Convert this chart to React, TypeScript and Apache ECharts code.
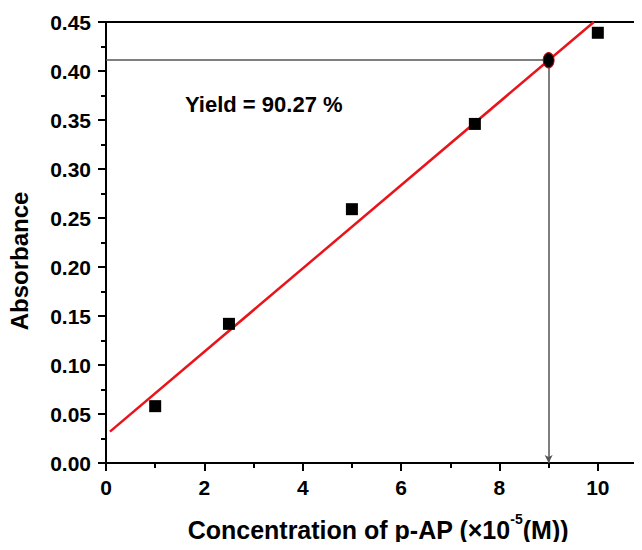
import React, { useEffect, useRef } from "react";
import * as echarts from "echarts";

const concentrations = [1, 2.5, 5, 7.5, 10];
const absorbances = [0.058, 0.142, 0.259, 0.346, 0.439];
const fitLine = [
  [0.08, 0.032],
  [9.92, 0.45],
];
const samplePoint = [9, 0.411];
const yieldText = "Yield = 90.27 %";
const xTitle = "Concentration of p-AP (×10";
const yTitle = "Absorbance";

const FONT = "'Liberation Sans', Arial, sans-serif";

export default function App() {
  const ref = useRef<HTMLDivElement>(null);
  useEffect(() => {
    if (!ref.current) return;
    const chart = echarts.init(ref.current, undefined, { renderer: "svg" });
    const scatterData = concentrations.map((x, i) => [x, absorbances[i]]);
    chart.setOption({
      animation: false,
      backgroundColor: "#fff",
      grid: {
        left: 106,
        top: 22,
        right: -5,
        bottom: 87,
        show: true,
        borderColor: "#000",
        borderWidth: 2,
        containLabel: false,
        outerBoundsMode: "none",
      },
      xAxis: {
        type: "value",
        min: 0,
        max: 11,
        interval: 2,
        axisLine: { show: true, lineStyle: { color: "#000", width: 2 } },
        axisTick: { show: true, length: 8, lineStyle: { color: "#000", width: 2 } },
        minorTick: { show: true, splitNumber: 2, length: 5, lineStyle: { color: "#000", width: 2 } },
        splitLine: { show: false },
        axisLabel: {
          margin: 14,
          color: "#000",
          fontFamily: FONT,
          fontWeight: "bold",
          fontSize: 21,
          showMaxLabel: false,
          formatter: (v: number) => (v > 10 ? "" : String(v)),
        },
      },
      yAxis: {
        type: "value",
        min: 0,
        max: 0.45,
        interval: 0.05,
        axisLine: { show: true, lineStyle: { color: "#000", width: 2 } },
        axisTick: { show: true, length: 8, lineStyle: { color: "#000", width: 2 } },
        minorTick: { show: true, splitNumber: 2, length: 5, lineStyle: { color: "#000", width: 2 } },
        splitLine: { show: false },
        axisLabel: {
          margin: 15,
          color: "#000",
          fontFamily: FONT,
          fontWeight: "bold",
          fontSize: 21,
          formatter: (v: number) => v.toFixed(2),
        },
      },
      graphic: [
        {
          type: "text",
          x: 185,
          y: 104,
          style: {
            text: yieldText,
            fill: "#000",
            font: `bold 22px ${FONT}`,
            verticalAlign: "middle",
          },
        },
        {
          type: "text",
          x: 19,
          y: 261,
          rotation: Math.PI / 2,
          style: {
            text: yTitle,
            fill: "#000",
            font: `bold 24px ${FONT}`,
            align: "center",
            verticalAlign: "middle",
          },
        },
        {
          type: "text",
          x: 378,
          y: 527,
          style: {
            text: `{m|${xTitle}}{s|-5}{m|(M))}`,
            align: "center",
            verticalAlign: "middle",
            rich: {
              m: { fontFamily: FONT, fontWeight: "bold", fontSize: 25, fill: "#000", color: "#000", lineHeight: 30, verticalAlign: "bottom" },
              s: { fontFamily: FONT, fontWeight: "bold", fontSize: 14, fill: "#000", color: "#000", lineHeight: 30, verticalAlign: "top" },
            },
          },
        },
      ],
      series: [
        {
          type: "line",
          data: fitLine,
          showSymbol: false,
          symbol: "none",
          lineStyle: { color: "#e8141a", width: 2.5 },
          silent: true,
          z: 3,
        },
        {
          type: "scatter",
          data: scatterData,
          symbol: "rect",
          symbolSize: 12,
          itemStyle: { color: "#000", opacity: 1 },
          z: 4,
          markLine: {
            silent: true,
            animation: false,
            label: { show: false },
            lineStyle: { color: "#555", width: 1.5, type: "solid" },
            data: [
              [
                { coord: [0, samplePoint[1]], symbol: "none" },
                { coord: [samplePoint[0], samplePoint[1]], symbol: "none" },
              ],
              [
                { coord: [samplePoint[0], samplePoint[1]], symbol: "none" },
                { coord: [samplePoint[0], 0], symbol: "arrow", symbolSize: [6, 8] },
              ],
            ],
          },
        },
        {
          type: "scatter",
          data: [samplePoint],
          symbol: "circle",
          symbolSize: [11, 15],
          itemStyle: { color: "#000", opacity: 1, borderColor: "#c00", borderWidth: 1 },
          z: 5,
        },
      ],
    });
    return () => chart.dispose();
  }, []);
  return <div ref={ref} style={{ width: 642, height: 550, margin: -8 }} />;
}
